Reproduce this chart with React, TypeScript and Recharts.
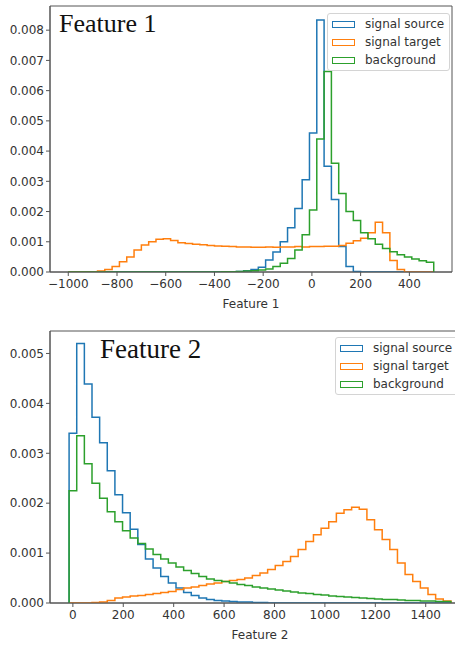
import React from "react";
import { LineChart, Line, XAxis, YAxis, ReferenceArea, Legend } from "recharts";

const BLUE = "#1f77b4";
const ORANGE = "#ff7f0e";
const GREEN = "#2ca02c";

// Feature 1: 50 bins, 30 wide, from -1000 to 500
const f1Edges = Array.from({ length: 51 }, (_, i) => -1000 + 30 * i);
const f1Source = [
	0, 0, 0, 0, 0, 0, 0, 0, 0, 0,
	0, 0, 0, 0, 0, 0, 0, 0, 0, 0,
	0, 0.00001, 0.00001, 0.00002, 0.00004, 0.00008, 0.00016, 0.0004, 0.00066, 0.001,
	0.00146, 0.0021, 0.00305, 0.0046, 0.00834, 0.0035, 0.0024, 0.00084, 0.00018, 0.00002,
	0, 0, 0, 0, 0, 0, 0, 0, 0, 0,
];
const f1Target = [
	0, 0, 0, 0, 0.00003, 0.00008, 0.00018, 0.00034, 0.0005, 0.00073,
	0.00089, 0.001, 0.00108, 0.0011, 0.00104, 0.00097, 0.00094, 0.00092, 0.0009, 0.00088,
	0.00086, 0.00085, 0.00084, 0.00083, 0.00083, 0.00082, 0.00082, 0.00083, 0.00082, 0.00083,
	0.00083, 0.00084, 0.00083, 0.00084, 0.00084, 0.00085, 0.00085, 0.00088, 0.00095, 0.00103,
	0.00112, 0.0013, 0.00165, 0.0013, 0.00038, 0.00008, 0, 0, 0, 0,
];
const f1Background = [
	0, 0, 0, 0, 0, 0, 0, 0, 0, 0,
	0, 0, 0, 0, 0, 0, 0, 0, 0, 0,
	0, 0.00001, 0.00001, 0.00002, 0.00003, 0.00004, 0.00007, 0.0001, 0.00018, 0.00029,
	0.00045, 0.00073, 0.00123, 0.00205, 0.0044, 0.00663, 0.0036, 0.0026, 0.002, 0.0017,
	0.0013, 0.0011, 0.00092, 0.00078, 0.00067, 0.00057, 0.0005, 0.00043, 0.00037, 0.00032,
];
const f1XTicks = [-1000, -800, -600, -400, -200, 0, 200, 400];
const f1YTicks = [0, 0.001, 0.002, 0.003, 0.004, 0.005, 0.006, 0.007, 0.008];

// Feature 2: 50 bins from -15 to 1500
const f2Edges = Array.from({ length: 51 }, (_, i) => -15 + 30.3 * i);
const f2Source = [
	0.0034, 0.0052, 0.00439, 0.00372, 0.00321, 0.00265, 0.00217, 0.00181, 0.00148, 0.00117,
	0.00088, 0.0007, 0.00053, 0.0004, 0.0003, 0.00021, 0.00015, 0.0001, 0.00007, 0.00005,
	0.00004, 0.00003, 0.00002, 0.00002, 0.00001, 0.00001, 0, 0, 0, 0,
	0, 0, 0, 0, 0, 0, 0, 0, 0, 0,
	0, 0, 0, 0, 0, 0, 0, 0, 0, 0,
];
const f2Target = [
	0, 0, 0, 0.00001, 0.00002, 0.00005, 0.0001, 0.00012, 0.00014, 0.00015,
	0.00017, 0.00019, 0.00021, 0.00023, 0.00027, 0.0003, 0.00032, 0.00035, 0.00038, 0.0004,
	0.00043, 0.00045, 0.00047, 0.0005, 0.00055, 0.0006, 0.00067, 0.00075, 0.00083, 0.00093,
	0.00107, 0.00123, 0.00137, 0.0015, 0.00163, 0.0018, 0.00187, 0.00192, 0.00188, 0.00167,
	0.00147, 0.00127, 0.00107, 0.0008, 0.00057, 0.00043, 0.0003, 0.00017, 0.00008, 0.00004,
];
const f2Background = [
	0.00225, 0.00335, 0.00279, 0.0024, 0.0021, 0.00183, 0.00163, 0.00145, 0.0013, 0.00119,
	0.00108, 0.00097, 0.00088, 0.0008, 0.00072, 0.00065, 0.00059, 0.00053, 0.00048, 0.00045,
	0.00043, 0.0004, 0.00037, 0.00035, 0.00032, 0.0003, 0.00028, 0.00026, 0.00024, 0.00022,
	0.0002, 0.00019, 0.00017, 0.00016, 0.00014, 0.00013, 0.00012, 0.00011, 0.0001, 0.00009,
	0.00008, 0.00007, 0.00007, 0.00006, 0.00005, 0.00005, 0.00004, 0.00004, 0.00003, 0.00003,
];
const f2XTicks = [0, 200, 400, 600, 800, 1000, 1200, 1400];
const f2YTicks = [0, 0.001, 0.002, 0.003, 0.004, 0.005];

const legendItems = [
	{ name: "signal source", color: BLUE },
	{ name: "signal target", color: ORANGE },
	{ name: "background", color: GREEN },
];

// outline of a step histogram: up at the first edge, across each bin, down at the last edge
const toSteps = (edges: number[], series: Record<string, number[]>) => {
	const keys = Object.keys(series);
	const row = (x: number, i: number) => {
		const r: Record<string, number> = { x };
		keys.forEach((k) => (r[k] = i < 0 ? 0 : series[k][i]));
		return r;
	};
	const rows = [row(edges[0], -1)];
	for (let i = 0; i < edges.length - 1; i++) rows.push(row(edges[i], i));
	rows.push(row(edges[edges.length - 1], edges.length - 2));
	rows.push(row(edges[edges.length - 1], -1));
	return rows;
};

const f1Data = toSteps(f1Edges, { source: f1Source, target: f1Target, background: f1Background });
const f2Data = toSteps(f2Edges, { source: f2Source, target: f2Target, background: f2Background });

const AXIS = "#555";
const tickStyle = { fontSize: 12, fill: "#333", fontFamily: "DejaVu Sans" };

const HistLegend = () => (
	<div
		style={{
			border: "1px solid #d4d4d4",
			borderRadius: 3,
			background: "rgba(255,255,255,0.85)",
			padding: "1px 4px",
			fontFamily: "DejaVu Sans",
			fontSize: 12,
			color: "#333",
			whiteSpace: "nowrap",
		}}
	>
		{legendItems.map((it) => (
			<div key={it.name} style={{ height: 18, display: "flex", alignItems: "center" }}>
				<span
					style={{
						display: "inline-block",
						width: 21,
						height: 5,
						border: `1.5px solid ${it.color}`,
						marginRight: 10,
					}}
				/>
				{it.name}
			</div>
		))}
	</div>
);

const Hist = ({
	data,
	width,
	height,
	margin,
	xDomain,
	yMax,
	xTicks,
	yTicks,
	label,
	legendPos,
}: any) => (
	<LineChart width={width} height={height} data={data} margin={margin} style={{ fontFamily: "DejaVu Sans" }}>
		<XAxis
			dataKey="x"
			type="number"
			domain={xDomain}
			ticks={xTicks}
			allowDataOverflow
			height={40}
			tick={tickStyle}
			tickSize={4}
			tickMargin={3}
			stroke={AXIS}
			tickFormatter={(v: number) => (v < 0 ? "\u2212" + Math.abs(v) : String(v))}
			label={{
				value: label,
				position: "insideBottom",
				offset: 4,
				fontSize: 12,
				fill: "#333",
				fontFamily: "DejaVu Sans",
			}}
		/>
		<YAxis
			type="number"
			domain={[0, yMax]}
			ticks={yTicks}
			allowDataOverflow
			width={50}
			tick={tickStyle}
			tickSize={4}
			tickMargin={2}
			stroke={AXIS}
			tickFormatter={(v: number) => v.toFixed(3)}
		/>
		<Line type="stepAfter" dataKey="source" stroke={BLUE} strokeWidth={1.5} dot={false} isAnimationActive={false} />
		<Line type="stepAfter" dataKey="target" stroke={ORANGE} strokeWidth={1.5} dot={false} isAnimationActive={false} />
		<Line type="stepAfter" dataKey="background" stroke={GREEN} strokeWidth={1.5} dot={false} isAnimationActive={false} />
		<ReferenceArea x1={xDomain[0]} x2={xDomain[1]} y1={0} y2={yMax} fill="none" stroke={AXIS} strokeWidth={1} ifOverflow="extendDomain" />
		<Legend
			layout="horizontal"
			verticalAlign="middle"
			align="center"
			wrapperStyle={{ left: legendPos.left, top: legendPos.top, width: legendPos.width, height: "auto" }}
			content={() => <HistLegend />}
		/>
	</LineChart>
);

const App = () => {
	return (
		<div
			style={{
				position: "fixed",
				left: 0,
				top: 0,
				width: 455,
				height: 648,
				overflow: "hidden",
				background: "#fff",
			}}
		>
			<div style={{ position: "absolute", left: 0, top: 0 }}>
				<Hist
					data={f1Data}
					width={455}
					height={312}
					margin={{ top: 6, right: 3, left: 0, bottom: 0 }}
					xDomain={[-1075, 575]}
					yMax={0.0088}
					xTicks={f1XTicks}
					yTicks={f1YTicks}
					label="Feature 1"
					legendPos={{ left: 327, top: 13, width: 123 }}
				/>
			</div>
			<div
				style={{
					position: "absolute",
					left: 59,
					top: 11,
					fontFamily: "Liberation Serif",
					fontSize: 26,
					lineHeight: "26px",
					color: "#111",
				}}
			>
				Feature 1
			</div>
			<div style={{ position: "absolute", left: 0, top: 324 }}>
				<Hist
					data={f2Data}
					width={475}
					height={319}
					margin={{ top: 7, right: 5, left: 0, bottom: 0 }}
					xDomain={[-90.75, 1575.75]}
					yMax={0.00545}
					xTicks={f2XTicks}
					yTicks={f2YTicks}
					label="Feature 2"
					legendPos={{ left: 335, top: 13, width: 135 }}
				/>
			</div>
			<div
				style={{
					position: "absolute",
					left: 100,
					top: 336,
					fontFamily: "Liberation Serif",
					fontSize: 27,
					lineHeight: "27px",
					color: "#111",
				}}
			>
				Feature 2
			</div>
		</div>
	);
};

export default App;
